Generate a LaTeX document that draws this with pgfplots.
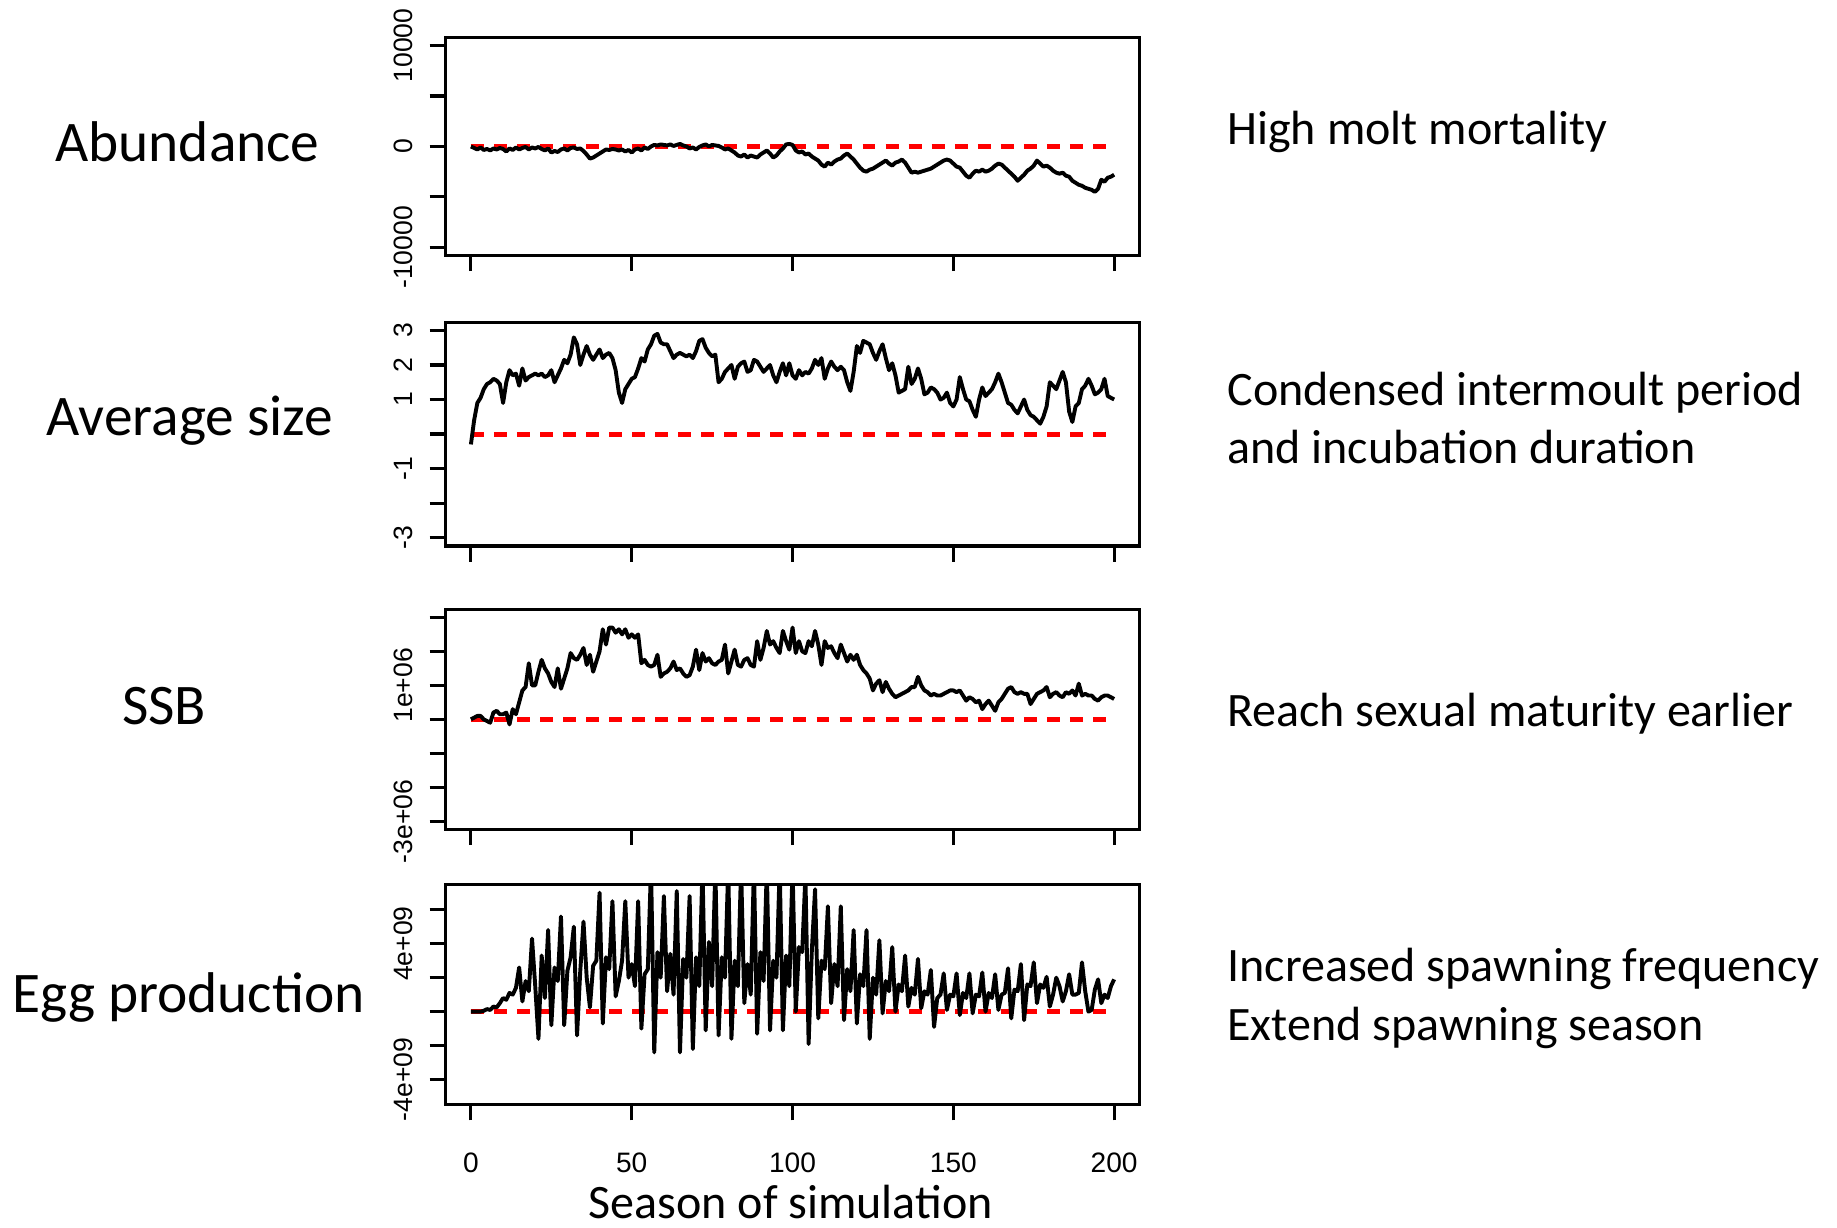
\documentclass[border=0pt]{standalone}
\usepackage{fontspec}
\setmainfont{Carlito}
\newfontfamily\arial{Liberation Sans}
\usepackage{pgfplots}
\pgfplotsset{compat=1.18}

\pgfplotsset{
  panel/.style={
    width=177.9pt, scale only axis,
    xmin=-8, xmax=208,
    axis line style={line width=0.8pt},
    xtick={0,50,100,150,200},
    xticklabels={},
    tick align=outside,
    xtick pos=bottom, ytick pos=left,
    major tick length=4pt,
    every tick/.style={black, line width=0.8pt},
    scaled y ticks=false,
    yticklabel style={font=\arial\fontsize{6.8}{7}\selectfont, rotate=90, anchor=south, inner sep=0pt},
    yticklabel shift=4.1pt,
    clip=true,
  },
  zero/.style={red, line width=1.25pt, dash pattern=on 3.3pt off 2.6pt},
  dat/.style={black, line width=1.0pt, line join=round},
}

\begin{document}
\begin{tikzpicture}[x=0.3pt, y=-0.3pt]
\useasboundingbox (0,0) rectangle (1568,1048);

% Panel 1: Abundance
\begin{axis}[panel, at={(114pt,-9.6pt)}, anchor=north west, height=55.8pt,
  ymin=-10800, ymax=10800, ytick={-10000,-5000,0,5000,10000},
  yticklabels={-10000,,0,,10000}]
\addplot[zero] coordinates {(0,0) (200,0)};
\addplot[dat] coordinates {(0,0) (1,-150) (2,-300) (3,-100) (4,-350) (5,-250) (6,-400) (7,-200) (8,-300) (9,-150) (10,-250) (11,-500) (12,-200) (13,-350) (14,-100) (15,-300) (16,-150) (17,-50) (18,-300) (19,-100) (20,-200) (21,-50) (22,-250) (23,-400) (24,-200) (25,-600) (26,-450) (27,-550) (28,-300) (29,-200) (30,-400) (31,-150) (32,-100) (33,-250) (34,-200) (35,-450) (36,-800) (37,-1200) (38,-1100) (39,-900) (40,-700) (41,-500) (42,-300) (43,-350) (44,-250) (45,-300) (46,-400) (47,-300) (48,-500) (49,-350) (50,-600) (51,-300) (52,-200) (53,-400) (54,-100) (55,-250) (56,0) (57,150) (58,100) (59,200) (60,150) (61,100) (62,200) (63,50) (64,150) (65,250) (66,100) (67,0) (68,-200) (69,-100) (70,-300) (71,-50) (72,100) (73,200) (74,0) (75,150) (76,100) (77,50) (78,-100) (79,-300) (80,-200) (81,-400) (82,-600) (83,-900) (84,-1000) (85,-800) (86,-1100) (87,-900) (88,-1000) (89,-1100) (90,-800) (91,-600) (92,-400) (93,-700) (94,-1100) (95,-900) (96,-500) (97,-200) (98,200) (99,250) (100,150) (101,-400) (102,-600) (103,-500) (104,-800) (105,-700) (106,-1000) (107,-1200) (108,-1400) (109,-1800) (110,-2000) (111,-1600) (112,-1800) (113,-1500) (114,-1300) (115,-1200) (116,-900) (117,-700) (118,-1000) (119,-1300) (120,-1700) (121,-2100) (122,-2400) (123,-2500) (124,-2300) (125,-2200) (126,-2000) (127,-1800) (128,-1600) (129,-1400) (130,-1700) (131,-1900) (132,-1600) (133,-1500) (134,-1300) (135,-1600) (136,-2100) (137,-2600) (138,-2500) (139,-2600) (140,-2500) (141,-2400) (142,-2300) (143,-2200) (144,-2000) (145,-1800) (146,-1600) (147,-1400) (148,-1300) (149,-1400) (150,-1700) (151,-2000) (152,-2100) (153,-2500) (154,-2900) (155,-3100) (156,-2700) (157,-2400) (158,-2500) (159,-2300) (160,-2500) (161,-2400) (162,-2200) (163,-1900) (164,-1700) (165,-1800) (166,-2100) (167,-2400) (168,-2700) (169,-3000) (170,-3400) (171,-3100) (172,-2800) (173,-2400) (174,-2200) (175,-1900) (176,-1400) (177,-1700) (178,-2000) (179,-1900) (180,-2100) (181,-2400) (182,-2600) (183,-2700) (184,-2600) (185,-2900) (186,-3000) (187,-3400) (188,-3600) (189,-3800) (190,-3900) (191,-4100) (192,-4200) (193,-4300) (194,-4500) (195,-4200) (196,-3300) (197,-3500) (198,-3100) (199,-3000) (200,-2800)};
\end{axis}

% Panel 2: Average size
\begin{axis}[panel, at={(114pt,-82.5pt)}, anchor=north west, height=57.3pt,
  ymin=-3.24, ymax=3.24, ytick={-3,-2,-1,0,1,2,3},
  yticklabels={-3,,-1,,1,2,3}]
\addplot[zero] coordinates {(0,0) (200,0)};
\addplot[dat] coordinates {(0,-0.3) (1,0.4) (2,0.9) (3,1.05) (4,1.3) (5,1.45) (6,1.5) (7,1.6) (8,1.55) (9,1.45) (10,0.9) (11,1.5) (12,1.85) (13,1.7) (14,1.75) (15,1.4) (16,1.9) (17,1.55) (18,1.65) (19,1.7) (20,1.75) (21,1.7) (22,1.75) (23,1.65) (24,1.7) (25,1.85) (26,1.5) (27,1.7) (28,1.9) (29,2.15) (30,2.05) (31,2.3) (32,2.8) (33,2.6) (34,2.0) (35,2.3) (36,2.55) (37,2.3) (38,2.15) (39,2.3) (40,2.45) (41,2.2) (42,2.3) (43,2.35) (44,2.2) (45,1.85) (46,1.2) (47,0.9) (48,1.3) (49,1.45) (50,1.6) (51,1.65) (52,1.9) (53,2.2) (54,2.1) (55,2.45) (56,2.6) (57,2.85) (58,2.9) (59,2.65) (60,2.6) (61,2.6) (62,2.4) (63,2.2) (64,2.3) (65,2.35) (66,2.3) (67,2.25) (68,2.3) (69,2.2) (70,2.4) (71,2.7) (72,2.75) (73,2.5) (74,2.35) (75,2.25) (76,2.3) (77,1.5) (78,1.6) (79,1.8) (80,1.9) (81,2.0) (82,1.6) (83,1.95) (84,2.05) (85,2.1) (86,1.8) (87,1.85) (88,2.15) (89,2.1) (90,1.95) (91,1.8) (92,1.9) (93,2.0) (94,1.7) (95,1.5) (96,1.8) (97,2.05) (98,1.7) (99,2.05) (100,1.7) (101,1.6) (102,1.85) (103,1.7) (104,1.8) (105,1.75) (106,1.9) (107,2.15) (108,2.0) (109,2.2) (110,1.6) (111,1.9) (112,2.1) (113,1.95) (114,1.85) (115,1.95) (116,1.85) (117,1.5) (118,1.25) (119,1.8) (120,2.55) (121,2.35) (122,2.7) (123,2.65) (124,2.6) (125,2.35) (126,2.15) (127,2.4) (128,2.6) (129,2.2) (130,1.85) (131,2.05) (132,1.7) (133,1.2) (134,1.25) (135,1.3) (136,1.95) (137,1.45) (138,1.6) (139,1.9) (140,1.6) (141,1.15) (142,1.2) (143,1.35) (144,1.3) (145,1.2) (146,1.0) (147,1.05) (148,1.2) (149,0.9) (150,0.8) (151,1.0) (152,1.65) (153,1.3) (154,1.0) (155,0.95) (156,0.7) (157,0.5) (158,1.0) (159,1.35) (160,1.1) (161,1.2) (162,1.3) (163,1.5) (164,1.75) (165,1.5) (166,1.2) (167,0.9) (168,0.85) (169,0.7) (170,0.6) (171,0.8) (172,1.0) (173,0.7) (174,0.55) (175,0.5) (176,0.4) (177,0.3) (178,0.5) (179,0.8) (180,1.5) (181,1.4) (182,1.3) (183,1.55) (184,1.8) (185,1.5) (186,0.65) (187,0.35) (188,0.8) (189,0.9) (190,1.3) (191,1.4) (192,1.6) (193,1.4) (194,1.15) (195,1.2) (196,1.3) (197,1.6) (198,1.1) (199,1.05) (200,1.0)};
\end{axis}

% Panel 3: SSB (values in units of 1e6)
\begin{axis}[panel, at={(114pt,-156pt)}, anchor=north west, height=56.4pt,
  ymin=-3.24, ymax=3.24, ytick={-3,-2,-1,0,1,2,3},
  yticklabels={-3e+06,,,,1e+06,,}]
\addplot[zero] coordinates {(0,0) (200,0)};
\addplot[dat] coordinates {(0,0) (1,0.05) (2,0.1) (3,0.1) (4,0.0) (5,-0.05) (6,-0.1) (7,0.2) (8,0.25) (9,0.15) (10,0.15) (11,0.2) (12,-0.15) (13,0.3) (14,0.15) (15,0.5) (16,0.85) (17,0.95) (18,1.65) (19,1.0) (20,1.0) (21,1.4) (22,1.75) (23,1.5) (24,1.35) (25,1.1) (26,0.95) (27,1.5) (28,0.9) (29,1.2) (30,1.5) (31,1.95) (32,1.8) (33,1.75) (34,1.9) (35,2.1) (36,1.6) (37,1.9) (38,1.4) (39,1.7) (40,2.0) (41,2.65) (42,2.2) (43,2.7) (44,2.7) (45,2.55) (46,2.65) (47,2.5) (48,2.65) (49,2.4) (50,2.5) (51,2.4) (52,2.5) (53,1.65) (54,1.75) (55,1.6) (56,1.55) (57,1.6) (58,1.9) (59,1.25) (60,1.35) (61,1.4) (62,1.5) (63,1.7) (64,1.45) (65,1.5) (66,1.35) (67,1.25) (68,1.3) (69,1.55) (70,2.05) (71,1.45) (72,1.95) (73,1.7) (74,1.8) (75,1.65) (76,1.6) (77,1.7) (78,1.75) (79,2.2) (80,1.35) (81,1.7) (82,2.05) (83,1.6) (84,1.55) (85,1.75) (86,1.8) (87,1.6) (88,1.55) (89,2.3) (90,1.75) (91,2.1) (92,2.6) (93,2.2) (94,2.3) (95,2.1) (96,1.95) (97,2.6) (98,2.3) (99,2.05) (100,2.7) (101,1.95) (102,2.3) (103,2.0) (104,1.95) (105,2.3) (106,2.15) (107,2.6) (108,2.2) (109,1.6) (110,2.3) (111,2.1) (112,2.15) (113,1.95) (114,1.8) (115,2.2) (116,1.95) (117,1.7) (118,1.9) (119,1.75) (120,1.9) (121,1.6) (122,1.45) (123,1.35) (124,1.2) (125,0.85) (126,1.05) (127,1.15) (128,0.8) (129,1.1) (130,0.9) (131,0.75) (132,0.65) (133,0.7) (134,0.75) (135,0.8) (136,0.85) (137,0.95) (138,0.95) (139,1.25) (140,1.0) (141,0.85) (142,0.8) (143,0.7) (144,0.75) (145,0.7) (146,0.7) (147,0.75) (148,0.8) (149,0.85) (150,0.85) (151,0.8) (152,0.85) (153,0.7) (154,0.55) (155,0.65) (156,0.6) (157,0.5) (158,0.55) (159,0.3) (160,0.45) (161,0.55) (162,0.4) (163,0.25) (164,0.5) (165,0.6) (166,0.75) (167,0.9) (168,0.95) (169,0.8) (170,0.75) (171,0.8) (172,0.75) (173,0.75) (174,0.45) (175,0.6) (176,0.75) (177,0.8) (178,0.85) (179,0.95) (180,0.65) (181,0.75) (182,0.8) (183,0.7) (184,0.65) (185,0.8) (186,0.75) (187,0.85) (188,0.7) (189,1.05) (190,0.7) (191,0.75) (192,0.7) (193,0.7) (194,0.6) (195,0.55) (196,0.65) (197,0.7) (198,0.7) (199,0.65) (200,0.6)};
\end{axis}

% Panel 4: Egg production (values in units of 1e9)
\begin{axis}[panel, at={(114pt,-226.5pt)}, anchor=north west, height=56.4pt,
  ymin=-5.48, ymax=7.48, ytick={-4,-2,0,2,4,6},
  yticklabels={-4e+09,,,,4e+09,},
  xticklabels={0,50,100,150,200},
  xticklabel style={font=\arial\fontsize{7.2}{8}\selectfont, anchor=north, inner sep=0pt},
  xticklabel shift=8pt]
\addplot[zero] coordinates {(0,0) (200,0)};
\addplot[dat] coordinates {(0,0) (1,0) (2,0) (3,0) (4,0.05) (5,0.15) (6,0.1) (7,0.3) (8,0.25) (9,0.5) (10,0.8) (11,0.7) (12,1.1) (13,1.0) (14,1.4) (15,2.6) (16,0.6) (17,1.8) (18,1.2) (19,4.3) (20,1.5) (21,-1.6) (22,3.3) (23,0.8) (24,4.8) (25,-0.8) (26,2.6) (27,1.8) (28,5.6) (29,-0.8) (30,2.4) (31,3.2) (32,5.0) (33,-1.4) (34,2.4) (35,5.3) (36,2.0) (37,0.25) (38,2.7) (39,3.0) (40,7.0) (41,-0.7) (42,3.2) (43,2.5) (44,6.5) (45,0.9) (46,1.8) (47,3.0) (48,6.5) (49,2.0) (50,2.8) (51,1.5) (52,6.5) (53,-1.0) (54,2.2) (55,2.5) (56,8.5) (57,-2.4) (58,3.5) (59,2.0) (60,6.8) (61,1.2) (62,3.4) (63,1.0) (64,7.1) (65,-2.4) (66,3.1) (67,2.0) (68,6.8) (69,-2.2) (70,3.2) (71,1.5) (72,8.5) (73,-1.1) (74,4.1) (75,1.5) (76,8.5) (77,-1.4) (78,3.2) (79,2.0) (80,8.5) (81,-1.6) (82,3.0) (83,1.5) (84,8.5) (85,0.5) (86,2.8) (87,1.0) (88,8.5) (89,-1.3) (90,3.5) (91,1.8) (92,8.5) (93,-1.1) (94,3.0) (95,2.0) (96,8.5) (97,-1.1) (98,3.3) (99,1.5) (100,8.5) (101,0.0) (102,3.8) (103,3.5) (104,8.0) (105,-1.9) (106,3.6) (107,7.2) (108,-0.4) (109,3.0) (110,2.5) (111,6.2) (112,0.5) (113,2.8) (114,1.5) (115,6.2) (116,-0.5) (117,2.5) (118,1.2) (119,4.8) (120,-0.7) (121,2.2) (122,1.5) (123,4.8) (124,-1.6) (125,2.0) (126,1.0) (127,4.2) (128,-0.1) (129,1.8) (130,1.2) (131,3.8) (132,0.0) (133,1.6) (134,1.2) (135,3.3) (136,0.3) (137,1.4) (138,1.0) (139,3.1) (140,0.2) (141,1.2) (142,1.0) (143,2.45) (144,-0.9) (145,0.8) (146,1.0) (147,2.25) (148,0.1) (149,1.0) (150,0.9) (151,2.25) (152,-0.2) (153,1.1) (154,0.8) (155,2.25) (156,-0.1) (157,1.0) (158,0.9) (159,2.3) (160,0.0) (161,1.1) (162,0.8) (163,2.2) (164,0.1) (165,1.0) (166,1.1) (167,2.55) (168,-0.4) (169,1.3) (170,1.2) (171,2.8) (172,-0.5) (173,1.6) (174,1.5) (175,2.9) (176,0.5) (177,1.6) (178,1.4) (179,2.05) (180,0.3) (181,1.0) (182,2.0) (183,1.5) (184,0.6) (185,1.2) (186,2.2) (187,1.0) (188,1.0) (189,1.1) (190,2.9) (191,1.2) (192,0.0) (193,0.1) (194,1.3) (195,1.9) (196,0.5) (197,1.0) (198,0.8) (199,1.5) (200,1.9)};
\end{axis}

% Left labels
\begin{scope}[every node/.style={font=\fontsize{14.7}{17}\selectfont, anchor=base, inner sep=0pt}]
\node at (160,137.5) {Abundance};
\node at (162,372) {Average size};
\node at (140,618) {SSB};
\node at (161,864) {Egg production};
\end{scope}

% Right labels
\begin{scope}[every node/.style={font=\fontsize{12.3}{14}\selectfont, anchor=base west, inner sep=0pt}]
\node at (1047,123) {High molt mortality};
\node at (1047,346) {Condensed intermoult period};
\node at (1047,396) {and incubation duration};
\node at (1047,620) {Reach sexual maturity earlier};
\node at (1047,838) {Increased spawning frequency};
\node at (1047,888) {Extend spawning season};
\end{scope}

\node[font=\fontsize{12.3}{14}\selectfont, anchor=base, inner sep=0pt] at (675,1040) {Season of simulation};
\end{tikzpicture}
\end{document}
